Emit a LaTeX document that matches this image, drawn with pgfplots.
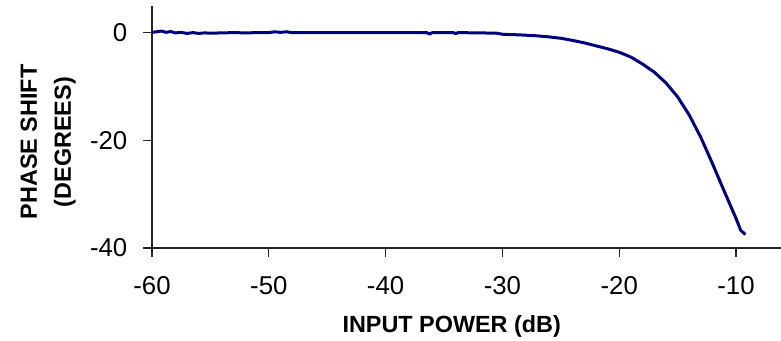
\documentclass[border=0pt]{standalone}
\usepackage{pgfplots}
\pgfplotsset{compat=1.18}
\usepackage{fontspec}
\setmainfont{Liberation Sans}
\definecolor{navyline}{RGB}{0,0,128}
\pgfplotstableread{
x y
-60 0.1
-59.6 0.2
-59.2 0.35
-58.8 0.1
-58.4 0.25
-58 0.0
-57.5 0.1
-57 -0.1
-56.5 0.05
-56 -0.1
-55.5 0
-55 -0.05
-54 0
-53 0.05
-52 0.0
-51 0.05
-50 0.05
-49.5 0.2
-49 0.1
-48.5 0.2
-48 0.05
-46 0.05
-44 0.05
-42 0.05
-40 0.05
-38 0.05
-36.5 0.05
-36.2 -0.2
-36 0.05
-35 0.05
-34.2 0.05
-34 -0.15
-33.8 0.05
-32 0.0
-30.5 -0.05
-30 -0.25
-29.5 -0.3
-28.5 -0.37
-27 -0.55
-26 -0.75
-25 -1.0
-24 -1.4
-23 -1.85
-22 -2.4
-21 -2.95
-20 -3.6
-19 -4.5
-18 -5.8
-17 -7.3
-16 -9.3
-15 -11.9
-14 -15.3
-13 -19.5
-12 -24.4
-11 -29.5
-10.5 -32.0
-10 -34.5
-9.6 -36.7
-9.2 -37.5
}\datatable
\begin{document}
\begin{tikzpicture}
\useasboundingbox (0,0) rectangle (390.5pt,170.5pt);
\begin{axis}[
  at={(76pt,46.5pt)}, anchor=south west,
  scale only axis, width=314.5pt, height=121pt,
  xmin=-60, xmax=-6.15, ymin=-40, ymax=5,
  axis x line=bottom, axis y line=left,
  axis line style={-, black!85, line width=0.6pt},
  tick align=outside,
  major tick length=4.3pt,
  tick style={black!85, line width=0.6pt},
  xtick={-60,-50,-40,-30,-20,-10},
  ytick={-40,-20,0},
  /pgf/number format/assume math mode=true,
  ticklabel style={font=\fontsize{12.9}{15}\selectfont},
  xticklabel style={yshift=-6.5pt},
  yticklabel style={xshift=-4.5pt},
  xlabel={INPUT POWER (dB)},
  ylabel={PHASE SHIFT\\(DEGREES)},
  label style={font=\fontsize{11.7}{17}\selectfont\bfseries},
  xlabel style={at={(axis description cs:0.4765,0)}, anchor=center, yshift=-39.3pt},
  ylabel style={align=center, at={(axis description cs:-0.165,0.438)}, anchor=center, rotate=0},
]
\addplot[navyline, line width=1.5pt, line join=round] table[x=x,y=y] {\datatable};
\end{axis}
\end{tikzpicture}
\end{document}
